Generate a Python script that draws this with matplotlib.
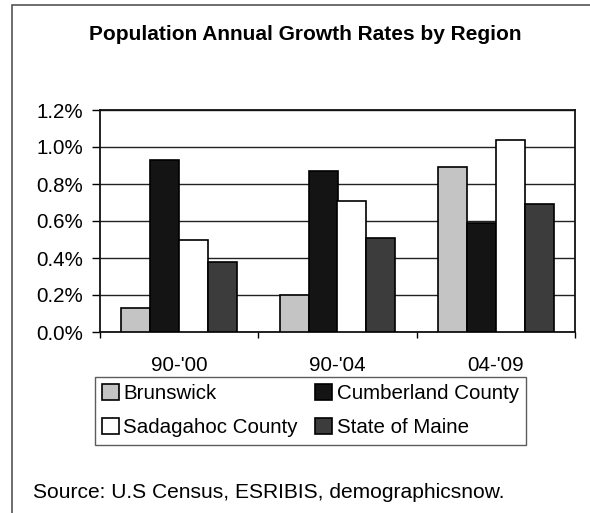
import matplotlib
matplotlib.use("Agg")
import matplotlib.pyplot as plt
from matplotlib.patches import Rectangle
from matplotlib.ticker import FuncFormatter, MultipleLocator
import numpy as np

plt.rcParams['font.family'] = ['Liberation Sans', 'DejaVu Sans']

periods = ["90-'00", "90-'04", "04-'09"]
regions = ["Brunswick", "Cumberland County", "Sadagahoc County", "State of Maine"]
brunswick = [0.13, 0.20, 0.89]
cumberland = [0.93, 0.87, 0.59]
sagadahoc = [0.50, 0.71, 1.04]
maine = [0.38, 0.51, 0.69]
series = [brunswick, cumberland, sagadahoc, maine]
fills = ["#c4c4c4", "#141414", "#ffffff", "#3c3c3c"]

W, H = 590, 513
fig = plt.figure(figsize=(W / 100, H / 100), dpi=100)
fig.patch.set_facecolor("white")

# outer frame (left and top edges visible)
fig.add_artist(Rectangle((12 / W, -0.05), 1.1, 1 - 5 / H + 0.05,
                         transform=fig.transFigure, fill=False,
                         edgecolor="#555555", linewidth=1.2))

ax = fig.add_axes([100 / W, 1 - 332 / H, 475 / W, 222 / H])
x = np.arange(len(periods))
bw = 0.183
bars = []
for i, (vals, fc, name) in enumerate(zip(series, fills, regions)):
    b = ax.bar(x + (i - 1.5) * bw, vals, width=bw, color=fc, edgecolor="black",
               linewidth=1.2, label=name, zorder=3)
    bars.append(b)

ax.set_xlim(-0.5, 2.5)
ax.set_ylim(0, 1.2)
ax.yaxis.set_major_locator(MultipleLocator(0.2))
ax.yaxis.set_major_formatter(FuncFormatter(lambda v, p: f"{v:.1f}%"))
ax.grid(axis="y", color="#222222", linewidth=1.0, zorder=0)
ax.set_axisbelow(True)

ax.set_xticks(x)
ax.set_xticklabels(periods)
ax.set_xticks([-0.5, 0.5, 1.5, 2.5], minor=True)
ax.tick_params(axis="x", which="major", length=0, pad=17, labelsize=14.8)
ax.tick_params(axis="x", which="minor", length=4, direction="out", width=1)
ax.tick_params(axis="y", length=6, direction="out", width=1, pad=6, labelsize=14.8)

for s in ax.spines.values():
    s.set_linewidth(1.3)
    s.set_color("#111111")

fig.text(305 / W, 1 - 35 / H, "Population Annual Growth Rates by Region",
         ha="center", va="center", fontsize=15, fontweight="bold")

# legend laid out row by row: Brunswick / Cumberland, Sadagahoc / Maine
order = [0, 2, 1, 3]
leg = fig.legend([bars[k] for k in order], [regions[k] for k in order],
                 loc="upper left", bbox_to_anchor=(95 / W, 1 - 377 / H),
                 ncol=2, fontsize=14.8, frameon=True, fancybox=False,
                 edgecolor="#333333", borderaxespad=0, handlelength=0.83,
                 handleheight=0.83, handletextpad=0.2, borderpad=0.35,
                 labelspacing=0.72, columnspacing=0.85)
leg.get_frame().set_linewidth(1.0)

fig.text(33 / W, 1 - 493 / H, "Source: U.S Census, ESRIBIS, demographicsnow.",
         ha="left", va="center", fontsize=15.1)

fig.savefig("out.png", dpi=100)
